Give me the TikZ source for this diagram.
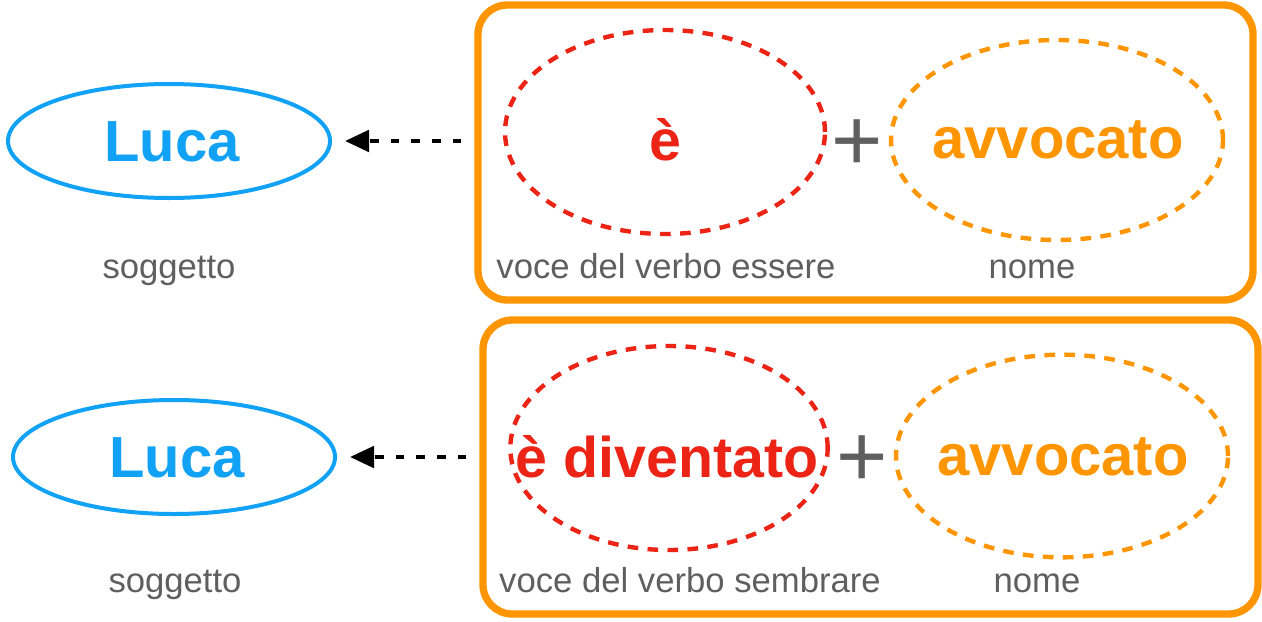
\documentclass[tikz,border=0pt]{standalone}
\usepackage{fontspec}
\setmainfont{Liberation Sans}
\usetikzlibrary{shapes.geometric,arrows.meta}
\definecolor{lucablue}{RGB}{18,162,245}
\definecolor{boxorange}{RGB}{255,149,0}
\definecolor{verbred}{RGB}{235,36,22}
\definecolor{labelgray}{RGB}{95,95,95}
\tikzset{
  framebox/.style={draw=boxorange, line width=5.5pt, rounded corners=22pt, inner sep=0pt},
  subjell/.style={draw=lucablue, line width=3pt, ellipse, inner sep=0pt, minimum width=241.5pt, minimum height=85.5pt},
  verbell/.style={draw=verbred, line width=3.3pt, ellipse, inner sep=0pt, dash pattern=on 8pt off 7pt},
  nounell/.style={draw=boxorange, line width=3.3pt, ellipse, inner sep=0pt, dash pattern=on 8pt off 7pt},
  subjtxt/.style={text=lucablue, font=\fontsize{43.5}{50}\selectfont\bfseries},
  verbtxt/.style={text=verbred, font=\fontsize{43}{50}\selectfont\bfseries},
  nountxt/.style={text=boxorange, font=\fontsize{43.5}{50}\selectfont\bfseries},
  plustxt/.style={text=labelgray, font=\fontsize{66}{70}\selectfont},
  lbl/.style={text=labelgray, font=\fontsize{26}{30}\selectfont, anchor=base},
  linkarrow/.style={line width=3pt, dash pattern=on 6.5pt off 9pt, -{Triangle[length=18pt,width=16pt]}}
}
\begin{document}
\begin{tikzpicture}[x=0.75pt,y=-0.75pt]
\useasboundingbox (0,0) rectangle (1262,621);
% top row
\node[framebox, minimum width=581.25pt, minimum height=221.25pt] (box1) at (865.5,152.5) {};
\node[subjell] (luca1) at (169,141) {};
\node[subjtxt] (lucat1) at (172,142) {Luca};
\node[lbl] (sog1) at (169,278) {soggetto};
\node[verbell, minimum width=240pt, minimum height=153pt] (verb1) at (665,132) {};
\node[verbtxt] (verbt1) at (665,140) {è};
\node[plustxt] (plus1) at (857,145) {+};
\node[nounell, minimum width=249pt, minimum height=150pt] (noun1) at (1057,140) {};
\node[nountxt] (nount1) at (1058,140) {avvocato};
\node[lbl] (vlab1) at (666,278) {voce del verbo essere};
\node[lbl] (nlab1) at (1032,278) {nome};
\draw[linkarrow] (box1.west |- luca1.east) ++(-13,0) coordinate (a1s) -- ([xshift=13*0.75pt]luca1.east);
% bottom row
\node[framebox, minimum width=581.25pt, minimum height=220.5pt] (box2) at (870.5,467) {};
\node[subjell] (luca2) at (174,457) {};
\node[subjtxt] (lucat2) at (177,458) {Luca};
\node[lbl] (sog2) at (175,592) {soggetto};
\node[verbell, minimum width=238pt, minimum height=153pt] (verb2) at (669,448) {};
\node[verbtxt] (verbt2) at (667,457) {è diventato};
\node[plustxt] (plus2) at (862,461) {+};
\node[nounell, minimum width=249pt, minimum height=152pt] (noun2) at (1062,456) {};
\node[nountxt] (nount2) at (1063,457) {avvocato};
\node[lbl] (vlab2) at (690,592) {voce del verbo sembrare};
\node[lbl] (nlab2) at (1037,592) {nome};
\draw[linkarrow] (box2.west |- luca2.east) ++(-13,0) coordinate (a2s) -- ([xshift=13*0.75pt]luca2.east);
\end{tikzpicture}
\end{document}
